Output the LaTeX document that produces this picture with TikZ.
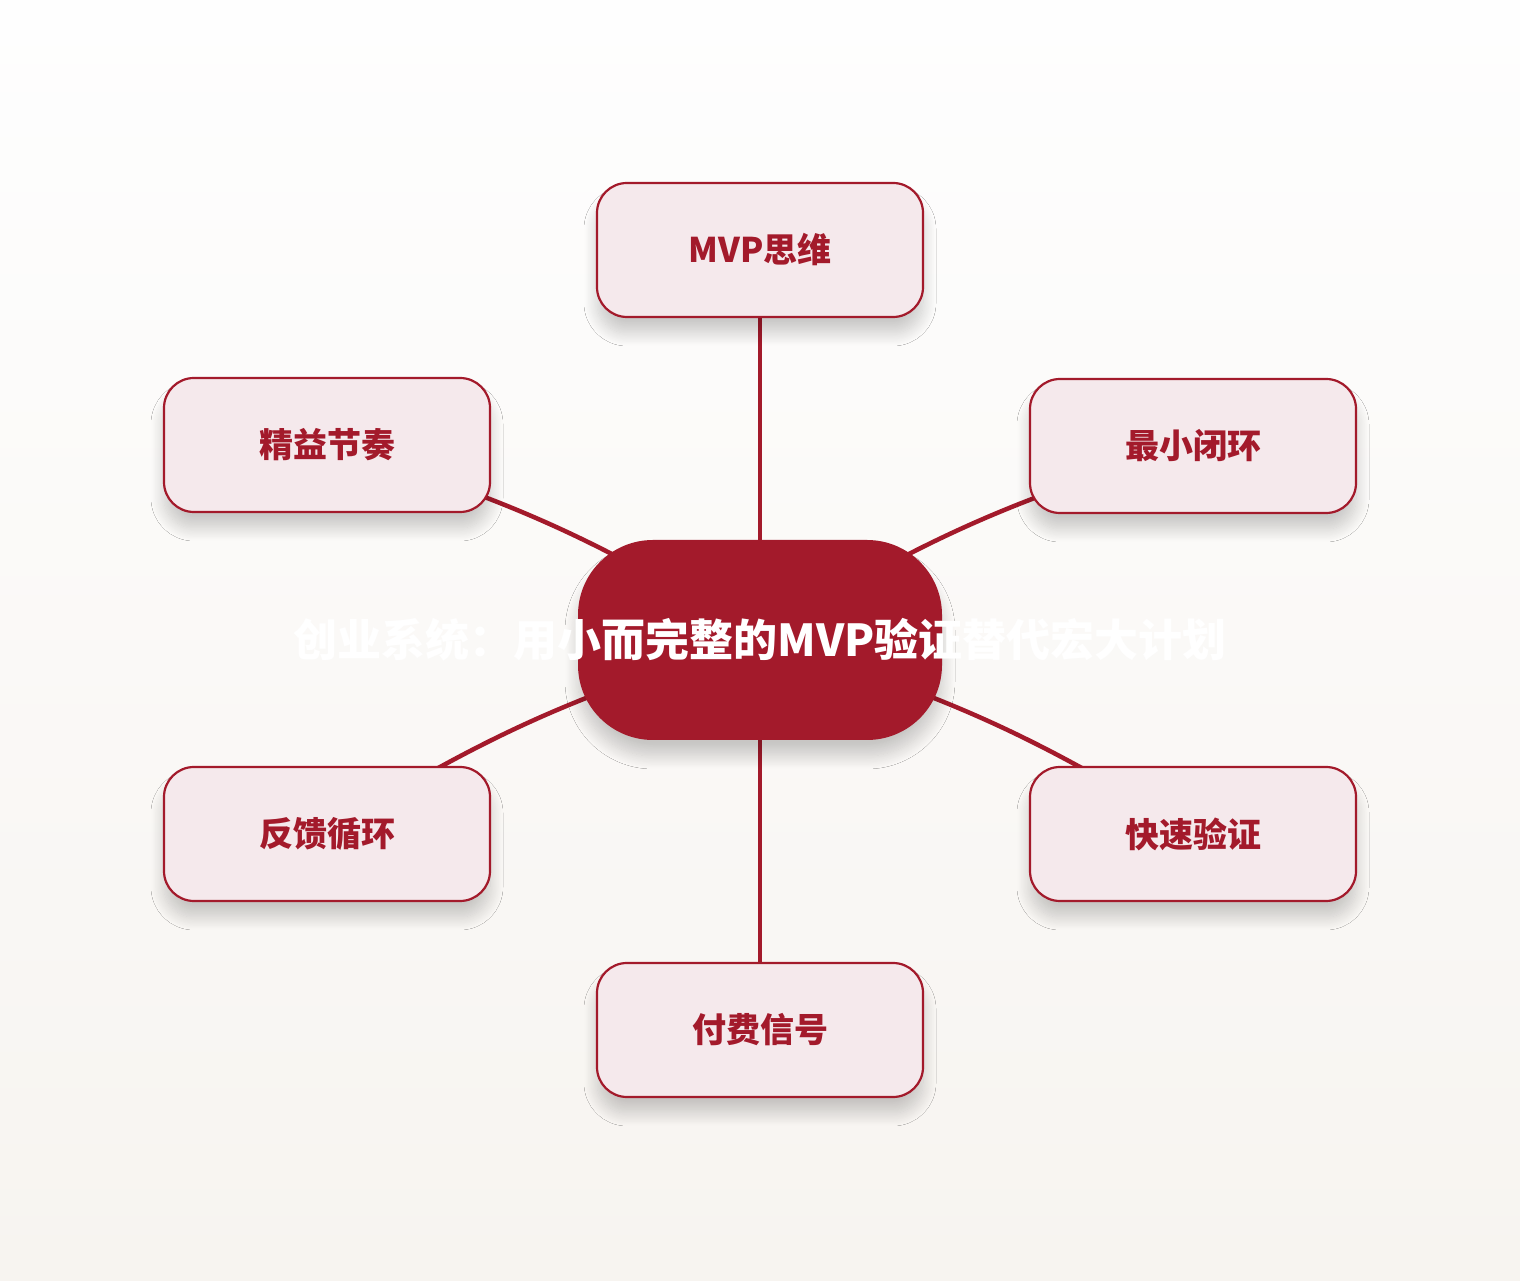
\documentclass[tikz,border=0pt]{standalone}
\usepackage{fontspec}
\newfontfamily\cjk{Noto Sans CJK SC}
\usetikzlibrary{backgrounds, shadows.blur}

\definecolor{brandred}{HTML}{A31A2B}
\definecolor{boxfill}{HTML}{F5E9EC}
\definecolor{bgtop}{HTML}{FEFEFE}
\definecolor{bgbot}{HTML}{F7F4F0}

\tikzset{
	softshadow/.style = {blur shadow = {shadow xshift = 0pt, shadow yshift = -16pt, shadow blur radius = 13pt,
		shadow blur steps = 16, shadow opacity = 20}},
	idea/.style = {draw = brandred, line width = 2.2pt, fill = boxfill, rounded corners = 30pt,
		minimum width = 326pt, minimum height = 134pt, text = brandred,
		font = \cjk\bfseries\fontsize{34pt}{40pt}\selectfont, softshadow},
	hub/.style = {fill = brandred, rounded corners = 75pt, minimum width = 364pt, minimum height = 200pt, softshadow},
	link/.style = {draw = brandred, line width = 4.5pt}
}

\begin{document}
\begin{tikzpicture}[x = 1pt, y = 1pt]

	\node [hub] (core) at (760, 640) {};
	\node [text = white, font = \cjk\bfseries\fontsize{44pt}{50pt}\selectfont] (corelabel) at (core) {创业系统：用小而完整的MVP验证替代宏大计划};

	\node [idea] (mvp) at (760, 1030) {MVP思维};
	\node [idea] (lean) at (327, 835) {精益节奏};
	\node [idea] (loop) at (1193, 834) {最小闭环};
	\node [idea] (feedback) at (327, 446) {反馈循环};
	\node [idea] (fast) at (1193, 446) {快速验证};
	\node [idea] (paid) at (760, 250) {付费信号};

	\begin{pgfonlayer}{background}
	\fill [top color = bgtop, bottom color = bgbot] (0, 0) rectangle (1520, 1280);

	\draw [link] (core.center) -- (mvp.center);
	\draw [link] (core.center) -- (paid.center);
	\draw [link] (core.center) to [bend right = 8] (lean.center);
	\draw [link] (core.center) to [bend right = 8] (feedback.center);
	\draw [link] (core.center) to [bend left = 8] (loop.center);
	\draw [link] (core.center) to [bend left = 8] (fast.center);
	\end{pgfonlayer}

\end{tikzpicture}
\end{document}
